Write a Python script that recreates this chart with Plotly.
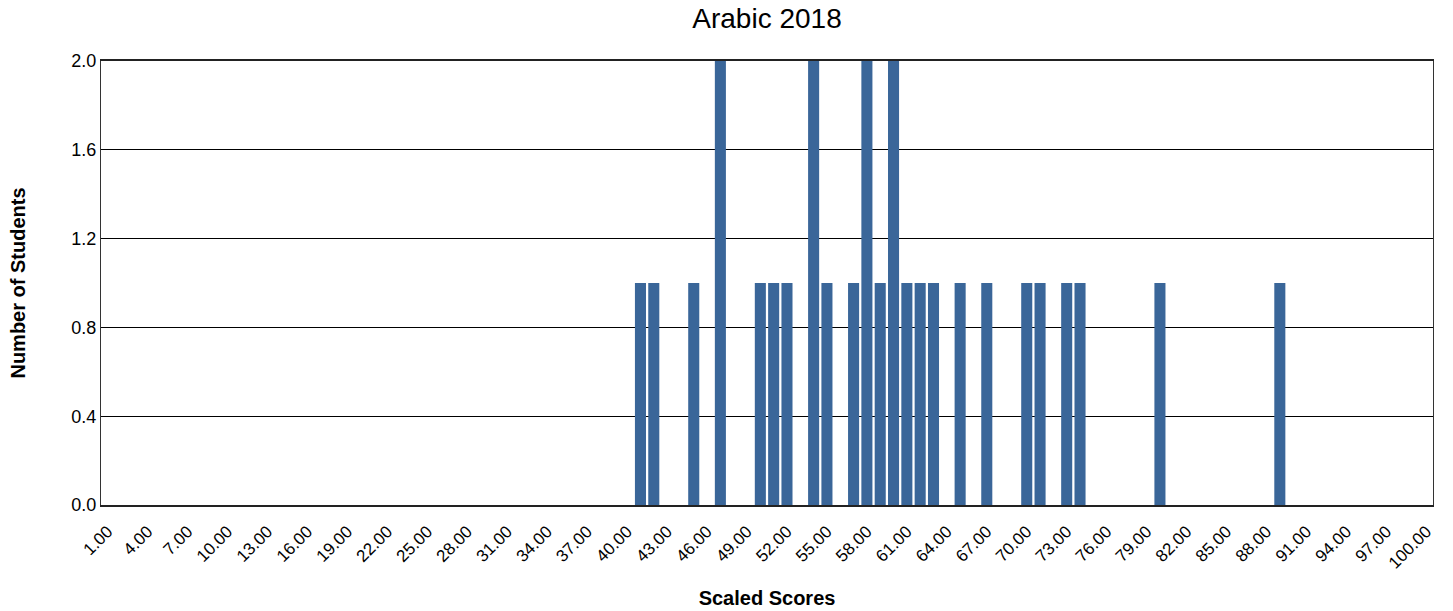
import plotly.graph_objects as go

categories = [f"{i}.00" for i in range(1, 101)]
tick_labels = [f"{i}.00" for i in range(1, 101, 3)]
scores = ["41.00", "42.00", "45.00", "47.00", "50.00", "51.00", "52.00", "54.00",
          "55.00", "57.00", "58.00", "59.00", "60.00", "61.00", "62.00", "63.00",
          "65.00", "67.00", "70.00", "71.00", "73.00", "74.00", "80.00", "89.00"]
counts = [1, 1, 1, 2, 1, 1, 1, 2,
          1, 1, 2, 1, 2, 1, 1, 1,
          1, 1, 1, 1, 1, 1, 1, 1]

W, H = 1453, 611

fig = go.Figure(go.Bar(x=scores, y=counts, marker=dict(color="#3A6699", line=dict(width=0))))

fig.update_layout(
    width=W, height=H,
    margin=dict(l=101, r=20, t=61, b=106),
    paper_bgcolor="white", plot_bgcolor="white",
    bargap=0.17,
    showlegend=False,
    font=dict(family="Liberation Sans, Arial, sans-serif", color="black"),
    title=dict(text="Arabic 2018", x=0.5, xanchor="center", xref="paper",
               y=1 - 18 / H, yanchor="middle", yref="container",
               font=dict(size=28, color="black")),
)
fig.update_xaxes(
    type="category", categoryorder="array", categoryarray=categories,
    range=[-0.5, 99.5], automargin=False,
    tickmode="array", tickvals=tick_labels, ticktext=tick_labels,
    tickangle=-45, tickfont=dict(size=17), ticklabelstandoff=8,
    showgrid=False, showline=True, linecolor="#222", linewidth=2, mirror=True,
    ticks="", title=dict(text="<b>Scaled Scores</b>", font=dict(size=20), standoff=19),
)
fig.update_yaxes(
    range=[0, 2], tickmode="array", tickvals=[0, 0.4, 0.8, 1.2, 1.6, 2.0],
    tickformat=".1f", tickfont=dict(size=18), automargin=False,
    showgrid=True, gridcolor="black", gridwidth=1,
    zeroline=False, showline=True, linecolor="#333", linewidth=1, mirror=True,
    ticks="", title=dict(text="<b>Number of Students</b>", font=dict(size=20), standoff=40),
)
fig.write_html("out.html", config={"displayModeBar": False},
               post_script="document.body.style.margin='0';")
